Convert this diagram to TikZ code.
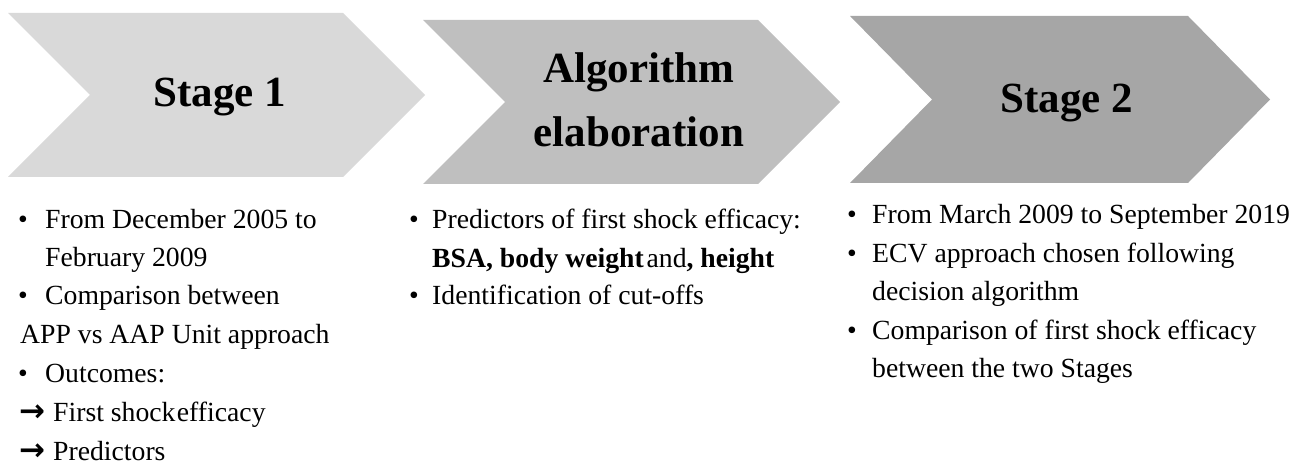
\documentclass[tikz,border=0pt]{standalone}
\usepackage{fontspec}
\setmainfont{Liberation Serif}
\newfontfamily\arrowfont{DejaVu Sans}
\definecolor{chevA}{HTML}{D9D9D9}
\definecolor{chevB}{HTML}{BFBFBF}
\definecolor{chevC}{HTML}{A6A6A6}
\begin{document}
\begin{tikzpicture}[x=1pt,y=-1pt,
  title/.style={font=\fontsize{43}{64}\selectfont\bfseries, inner sep=0pt, anchor=base, align=center},
  body/.style={font=\fontsize{27.7}{38}\selectfont, inner sep=0pt, anchor=base west},
  bul/.style={font=\fontsize{27.7}{38}\selectfont, inner sep=0pt, anchor=base},
  arr/.style={font=\fontsize{31}{38}\selectfont\arrowfont\bfseries, inner sep=0pt, anchor=base west}]
\useasboundingbox (0,0) rectangle (1302,468);
\fill[chevA] (8,13) -- (343,13) -- (425,95) -- (343,177) -- (8,177) -- (90,95) -- cycle;
\fill[chevB] (423,20) -- (758,20) -- (840,102) -- (758,184) -- (423,184) -- (505,102) -- cycle;
\fill[chevC] (850,16) -- (1188,16) -- (1270,99.5) -- (1188,183) -- (850,183) -- (932,99.5) -- cycle;
\node[title] (t1) at (220,107) {Stage 1};
\node[title] (t2a) at (639,83) {Algorithm};
\node[title] (t2b) at (639,147) {elaboration};
\node[title] (t3) at (1067,113) {Stage 2};
% column 1
\node[bul] (b11) at (23,229) {•};
\node[body] (l11) at (45,229) {From December 2005 to};
\node[body] (l12) at (45,266) {February 2009};
\node[bul] (b12) at (23,304) {•};
\node[body] (l13) at (45,304) {Comparison between};
\node[body] (l14) at (20,343) {APP vs AAP Unit approach};
\node[bul] (b13) at (23,382) {•};
\node[body] (l15) at (45,382) {Outcomes:};
\node[arr] (a16) at (19,421) {→};
\node[body] (l16) at (53,421) {First shock\hspace{0.05em}efficacy};
\node[arr] (a17) at (19,460) {→};
\node[body] (l17) at (53,460) {Predictors};
% column 2
\node[bul] (b21) at (414,228) {•};
\node[body] (l21) at (432,228) {Predictors of first shock efficacy:};
\node[body] (l22) at (432,267) {\textbf{BSA, body weight}\hspace{0.1em}and\textbf{, height}};
\node[bul] (b22) at (414,304) {•};
\node[body] (l23) at (432,304) {Identification of cut-offs};
% column 3
\node[bul] (b31) at (852,223) {•};
\node[body] (l31) at (872,223) {From March 2009 to September 2019};
\node[bul] (b32) at (852,262) {•};
\node[body] (l32) at (872,262) {ECV approach chosen following};
\node[body] (l33) at (872,300) {decision algorithm};
\node[bul] (b33) at (852,339) {•};
\node[body] (l34) at (872,339) {Comparison of first shock efficacy};
\node[body] (l35) at (872,377) {between the two Stages};
\end{tikzpicture}
\end{document}
